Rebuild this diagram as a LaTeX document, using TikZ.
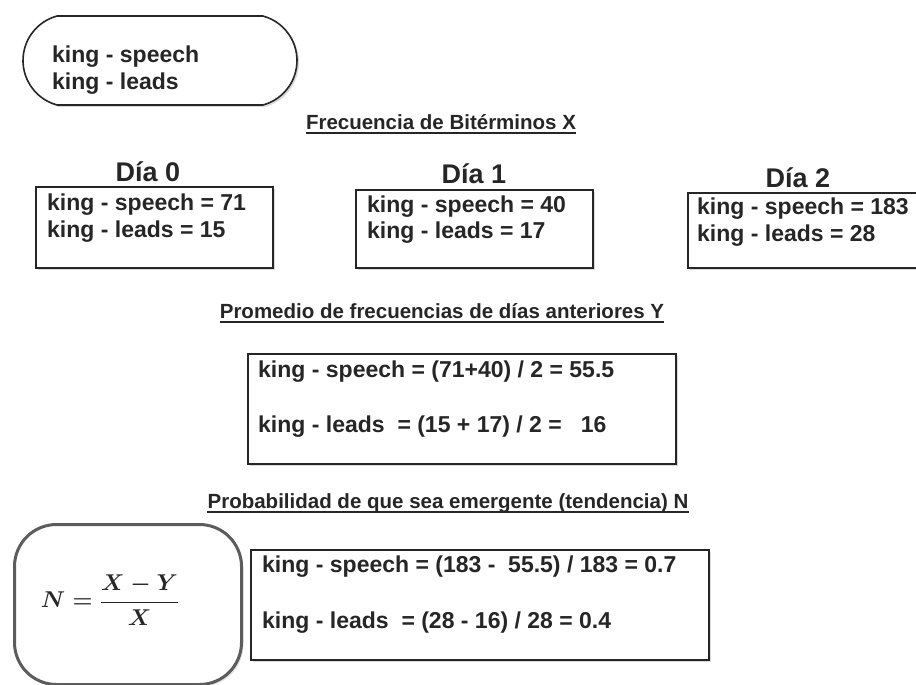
\documentclass[tikz,border=0pt]{standalone}
\usepackage{fontspec}
\usepackage{graphicx}
\setmainfont{Liberation Sans}
\usetikzlibrary{shadows,shapes.misc}
\definecolor{ink}{HTML}{262626}
\tikzset{
  boxed/.style={draw=ink, line width=1.6pt, fill=white, inner sep=0pt,
    drop shadow={shadow xshift=2pt, shadow yshift=-2pt, opacity=0.3}},
  txt/.style={anchor=base west, inner sep=0pt, text=ink, font=\fontsize{23}{26}\selectfont\bfseries},
  day/.style={anchor=base, inner sep=0pt, text=ink, font=\fontsize{27}{30}\selectfont\bfseries},
  ttl/.style={anchor=base, inner sep=0pt, text=ink, font=\fontsize{20.5}{24}\selectfont\bfseries},
  uline/.style={draw=ink, line width=1.8pt}
}
\begin{document}
\begin{tikzpicture}[x=1pt,y=-1pt]
\useasboundingbox (0,0) rectangle (916,685);
\begin{scope}
\clip (0,0) rectangle (916,685);
% top pill
\node[rounded rectangle, rounded rectangle arc length=150, draw=ink, line width=1.6pt,
  minimum width=274pt, minimum height=89pt, inner sep=0pt,
  drop shadow={shadow xshift=2pt, shadow yshift=-2pt, opacity=0.3}, fill=white] (pill) at (160,60.5) {};
\node[txt] (p1) at (52,63) {king - speech};
\node[txt] (p2) at (52,89) {king - leads};
% title 1
\node[ttl] (t1) at (441,129) {Frecuencia de Bitérminos X};
\draw[uline] ([yshift=-4pt]t1.base west) -- ([yshift=-4pt]t1.base east);
% day 0
\node[day] (h0) at (148,181) {Día 0};
\node[boxed, minimum width=237pt, minimum height=81pt, anchor=north west] (b0) at (35,186) {};
\node[txt] (b0a) at (47,210) {king - speech = 71};
\node[txt] (b0b) at (47,237) {king - leads = 15};
% day 1
\node[day] (h1) at (474,183) {Día 1};
\node[boxed, minimum width=237pt, minimum height=78pt, anchor=north west] (b1) at (355,189) {};
\node[txt] (b1a) at (367,212) {king - speech = 40};
\node[txt] (b1b) at (367,238) {king - leads = 17};
% day 2
\node[day] (h2) at (798,187) {Día 2};
\node[boxed, minimum width=300pt, minimum height=75pt, anchor=north west] (b2) at (687,192) {};
\node[txt] (b2a) at (697,214) {king - speech = 183};
\node[txt] (b2b) at (697,241) {king - leads = 28};
% title 2
\node[ttl] (t2) at (442,318) {Promedio de frecuencias de días anteriores Y};
\draw[uline] ([yshift=-4pt]t2.base west) -- ([yshift=-4pt]t2.base east);
\node[boxed, minimum width=428pt, minimum height=110pt, anchor=north west] (by) at (247,353) {};
\node[txt] (bya) at (258,377) {king - speech = (71+40) / 2 = 55.5};
\node[txt] (byb) at (258,432) {king - leads \ = (15 + 17) / 2 = \ \ 16};
% title 3
\node[ttl] (t3) at (448,508) {Probabilidad de que sea emergente (tendencia) N};
\draw[uline] ([yshift=-4pt]t3.base west) -- ([yshift=-4pt]t3.base east);
% formula box
\node[draw=ink!75, line width=3pt, rounded corners=42pt, minimum width=227pt, minimum height=160pt,
  anchor=north west, inner sep=0pt, fill=white,
  drop shadow={shadow xshift=2pt, shadow yshift=-2pt, opacity=0.25}] (fb) at (13,523) {};
\node[inner sep=0pt, text=ink, font=\fontsize{29}{32}\selectfont\boldmath] (fm) at (110,600) {\scalebox{0.92}{$\displaystyle N=\frac{X-Y}{X}$}};
% N box
\node[boxed, minimum width=458pt, minimum height=110pt, anchor=north west] (bn) at (250,549) {};
\node[txt] (bna) at (262,572) {king - speech = (183 - \ 55.5) / 183 = 0.7};
\node[txt] (bnb) at (262,628) {king - leads \ = (28 - 16) / 28 = 0.4};
\end{scope}
\end{tikzpicture}
\end{document}
